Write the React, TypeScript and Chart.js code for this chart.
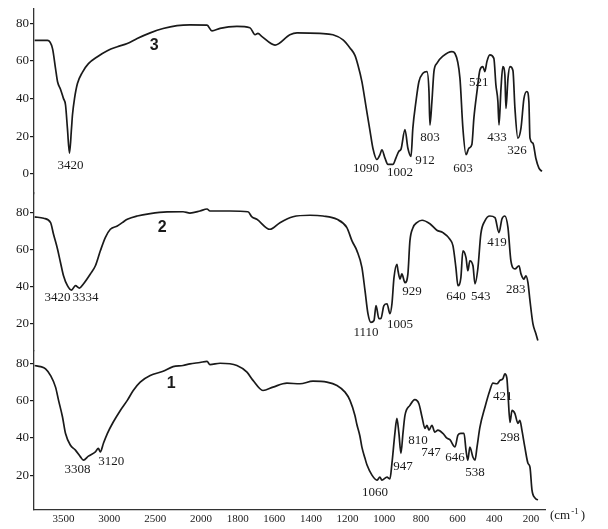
import React, { useEffect, useRef } from 'react';
import { Chart, registerables } from 'chart.js';

Chart.register(...registerables);

// Spectrum 3 (top panel): wavenumber (cm-1) and transmittance (%)
const wn3 = [3815, 3674, 3620, 3587, 3565, 3533, 3500, 3478, 3457, 3435, 3413, 3402, 3380, 3348, 3294, 3228, 3130, 3022, 2913, 2804, 2696, 2554, 2413, 2261, 2120, 1967, 1940, 1896, 1804, 1733, 1705, 1689, 1667, 1596, 1515, 1476, 1351, 1280, 1225, 1187, 1160, 1144, 1122, 1100, 1078, 1062, 1040, 1024, 1013, 996, 980, 953, 936, 920, 909, 887, 871, 854, 844, 827, 811, 789, 767, 756, 751, 740, 729, 713, 680, 631, 614, 587, 571, 554, 538, 522, 511, 494, 478, 462, 451, 440, 424, 402, 391, 380, 374, 363, 353, 342, 336, 325, 314, 298, 287, 271, 254, 238, 222, 211, 205, 189, 173, 156, 140];
const t3 = [71, 71, 66.6, 56, 49, 45, 40, 36.6, 24, 11, 24, 31.4, 40, 48, 54, 58.6, 62.3, 65.5, 67.6, 69.3, 72, 75, 77.3, 78.8, 79.2, 79.1, 76, 77.4, 78.4, 77.7, 74, 74.7, 73, 68.5, 74, 75, 74.7, 74, 71.3, 67, 63, 58, 49, 36, 23, 13.6, 7.6, 10, 12.8, 8.3, 5, 5, 8.5, 12, 13, 23.5, 13.6, 9.3, 24.3, 38.5, 49, 53.5, 54.4, 43.8, 26, 38.5, 54.4, 58.8, 62.6, 65, 64, 50.8, 24.3, 10.2, 13.6, 15.6, 29.6, 43.8, 55.2, 57, 54.4, 59.7, 63.3, 61.4, 47.4, 38.5, 26, 45.6, 57, 52.6, 34.8, 50.8, 57, 55, 34.8, 18.9, 24.3, 40, 43.8, 38.5, 19, 16.3, 8.3, 3, 1.3];

// Spectrum 2 (middle panel)
const wn2 = [3815, 3717, 3641, 3609, 3565, 3533, 3500, 3457, 3413, 3370, 3326, 3283, 3207, 3152, 3098, 3044, 2989, 2913, 2859, 2804, 2696, 2554, 2370, 2196, 2120, 2011, 1967, 1951, 1842, 1744, 1722, 1695, 1624, 1569, 1498, 1405, 1334, 1258, 1204, 1176, 1149, 1122, 1105, 1089, 1073, 1056, 1045, 1029, 1018, 1002, 985, 969, 958, 947, 931, 925, 914, 904, 887, 871, 860, 844, 822, 794, 751, 713, 680, 642, 625, 609, 598, 582, 571, 554, 544, 533, 516, 505, 489, 473, 451, 424, 396, 374, 358, 342, 325, 309, 287, 265, 254, 238, 227, 216, 205, 189, 173, 162];
const t2 = [77.7, 77, 74.6, 68.3, 60.2, 53, 45.8, 40.4, 38, 40.4, 39.1, 41.3, 46.7, 51.2, 59.3, 66.5, 71, 72.8, 74.6, 76.4, 78.2, 79.5, 80.4, 80.5, 79.8, 80.9, 82, 80.9, 80.9, 80.5, 77.7, 76.4, 71, 74.6, 77.8, 78.6, 78.2, 76.4, 71.9, 64.7, 59.3, 50.3, 37.7, 25.2, 20.5, 21.5, 29.6, 22.5, 22.6, 29.6, 30.6, 25.2, 30.6, 44.7, 52, 48.5, 44, 46.8, 42, 46.8, 64.7, 71.7, 74.6, 75.9, 74, 70.5, 69.2, 65.6, 62, 50.1, 40.4, 44.7, 59.3, 55.6, 48.5, 53.9, 51.2, 41.4, 50, 68.5, 75.5, 78.2, 77.3, 69.2, 76.6, 78.2, 71.9, 53.9, 49.5, 51.2, 46.8, 44, 45.8, 42, 32.3, 19.8, 14.4, 10.7];

// Spectrum 1 (bottom panel)
const wn1 = [3815, 3750, 3696, 3641, 3587, 3554, 3511, 3478, 3424, 3370, 3315, 3283, 3228, 3152, 3120, 3098, 3065, 3022, 2957, 2880, 2804, 2739, 2663, 2554, 2413, 2304, 2196, 2120, 2011, 1967, 1951, 1896, 1804, 1749, 1716, 1662, 1607, 1531, 1460, 1389, 1313, 1258, 1214, 1187, 1160, 1149, 1133, 1122, 1105, 1094, 1067, 1040, 1024, 1013, 985, 969, 958, 942, 931, 920, 909, 898, 887, 860, 833, 811, 794, 778, 767, 756, 740, 724, 707, 680, 658, 642, 614, 598, 582, 565, 554, 544, 533, 516, 505, 494, 478, 451, 424, 407, 385, 369, 353, 342, 331, 325, 314, 303, 287, 271, 260, 249, 233, 216, 205, 194, 178, 162];
const t1 = [78.8, 78.2, 77, 73.4, 67.2, 60.1, 51.2, 42.3, 36, 33.4, 29.8, 28, 30.2, 32.5, 34.3, 32.5, 37, 42.3, 48.5, 54.7, 60.1, 65.4, 69.9, 73.4, 75.7, 78.2, 78.8, 79.7, 80.4, 81, 79.3, 80, 78.8, 75.2, 70.8, 65.4, 67.2, 69.3, 69, 70.4, 69.9, 68.1, 64.5, 60.1, 52, 47, 41, 35, 29, 25.4, 20, 17.3, 18.9, 17.3, 18.9, 18, 26.4, 42.4, 50.4, 42.4, 31.7, 42.4, 52, 57.4, 60.5, 58.3, 51.2, 45.1, 46.7, 44.1, 46.7, 43.1, 44.1, 42.4, 39.8, 39, 35.1, 41.4, 42.4, 42.4, 33.4, 28, 35, 29.6, 28, 35, 45.7, 56.3, 65.4, 69.3, 69, 70.8, 71.7, 74.3, 72, 63.8, 48.3, 54.7, 53, 47.8, 49.4, 44.1, 35, 26.4, 24.3, 12, 7.8, 6.7];

// Axis ticks
const xTickWavenumbers = [3500, 3000, 2500, 2000, 1800, 1600, 1400, 1200, 1000, 800, 600, 400, 200];
const yTickValues = [0, 20, 40, 60, 80];

// Peak annotations: text, wavenumber position, transmittance position
const peaks3 = [
  { text: '3420', wn: 3424, t: 4.5 },
  { text: '1090', wn: 1100, t: 2.9 },
  { text: '1002', wn: 914, t: 0.8 },
  { text: '912', wn: 778, t: 7.2 },
  { text: '803', wn: 751, t: 19.4 },
  { text: '603', wn: 571, t: 2.9 },
  { text: '521', wn: 484, t: 48.5 },
  { text: '433', wn: 385, t: 19.4 },
  { text: '326', wn: 276, t: 12.5 },
];
const peaks2 = [
  { text: '3420', wn: 3565, t: 33.9 },
  { text: '3334', wn: 3261, t: 33.9 },
  { text: '1110', wn: 1100, t: 15 },
  { text: '1005', wn: 914, t: 19.3 },
  { text: '929', wn: 849, t: 37.1 },
  { text: '640', wn: 609, t: 34.4 },
  { text: '543', wn: 473, t: 34.4 },
  { text: '419', wn: 385, t: 63.6 },
  { text: '283', wn: 282, t: 38.2 },
];
const peaks1 = [
  { text: '3308', wn: 3348, t: 23.2 },
  { text: '3120', wn: 2978, t: 27.5 },
  { text: '1060', wn: 1051, t: 10.4 },
  { text: '947', wn: 898, t: 24.8 },
  { text: '810', wn: 816, t: 38.7 },
  { text: '747', wn: 745, t: 32.3 },
  { text: '646', wn: 614, t: 29.6 },
  { text: '538', wn: 505, t: 21.6 },
  { text: '421', wn: 353, t: 62.2 },
  { text: '298', wn: 314, t: 40.3 },
];
const curveNames = [
  { text: '3', wn: 2511, t: 68.2, axis: 'y3' },
  { text: '2', wn: 2424, t: 71.7, axis: 'y2' },
  { text: '1', wn: 2326, t: 69.2, axis: 'y1' },
];

// Scale change at 2000 cm-1 (half compression above 2000)
const toU = (wn: number) => (wn <= 2000 ? wn : 2000 + (wn - 2000) / 2);
const fromU = (u: number) => (u <= 2000 ? u : 2000 + (u - 2000) * 2);

const INK = '#1a1a1a';
const SERIF = '"Liberation Serif", "DejaVu Serif", serif';

const annotationPlugin = {
  id: 'irAnnotations',
  afterDatasetsDraw(chart: any) {
    const { ctx, scales } = chart;
    const xs = scales.x;
    ctx.save();
    ctx.fillStyle = INK;
    ctx.textAlign = 'center';
    ctx.textBaseline = 'middle';
    ctx.font = `13px ${SERIF}`;
    const groups: [any[], string][] = [
      [peaks3, 'y3'],
      [peaks2, 'y2'],
      [peaks1, 'y1'],
    ];
    for (const [list, axis] of groups) {
      const ys = scales[axis];
      for (const p of list) {
        ctx.fillText(p.text, xs.getPixelForValue(toU(p.wn)), ys.getPixelForValue(p.t));
      }
    }
    ctx.font = 'bold 16px "Liberation Sans", Arial, sans-serif';
    for (const c of curveNames) {
      ctx.fillText(c.text, xs.getPixelForValue(toU(c.wn)), scales[c.axis].getPixelForValue(c.t));
    }
    // unit label at the right end of the x axis
    const ax = xs.right + 5;
    const ay = xs.top + 6;
    ctx.textAlign = 'left';
    ctx.font = `13px ${SERIF}`;
    ctx.fillText('(cm', ax, ay);
    const w = ctx.measureText('(cm').width;
    ctx.font = `9px ${SERIF}`;
    ctx.fillText('-1', ax + w + 1, ay - 4);
    const w2 = ctx.measureText('-1').width;
    ctx.font = `13px ${SERIF}`;
    ctx.fillText(')', ax + w + w2 + 3, ay);
    ctx.restore();
  },
};

function yAxis(min: number, max: number, weight: number) {
  return {
    type: 'linear' as const,
    position: 'left' as const,
    stack: 'ir',
    stackWeight: weight,
    min,
    max,
    afterBuildTicks: (s: any) => {
      s.ticks = yTickValues.filter((v) => v >= min && v <= max).map((v) => ({ value: v }));
    },
    afterFit: (s: any) => {
      s.width = 34;
    },
    grid: {
      display: true,
      drawOnChartArea: false,
      drawTicks: true,
      tickLength: 4,
      color: INK,
      lineWidth: 1.2,
    },
    border: { display: true, color: '#333', width: 1.3 },
    ticks: {
      color: INK,
      padding: 1,
      font: { family: SERIF, size: 13 },
    },
  };
}

export default function App() {
  const ref = useRef<HTMLCanvasElement | null>(null);
  useEffect(() => {
    if (!ref.current) return;
    const mk = (wn: number[], t: number[]) => wn.map((w, i) => ({ x: toU(w), y: t[i] }));
    const lineStyle = {
      borderColor: INK,
      borderWidth: 1.7,
      pointRadius: 0,
      fill: false,
      cubicInterpolationMode: 'monotone' as const,
    };
    const chart = new Chart(ref.current, {
      type: 'line',
      data: {
        datasets: [
          { label: '1', data: mk(wn1, t1), yAxisID: 'y1', ...lineStyle },
          { label: '2', data: mk(wn2, t2), yAxisID: 'y2', ...lineStyle },
          { label: '3', data: mk(wn3, t3), yAxisID: 'y3', ...lineStyle },
        ],
      },
      options: {
        animation: false,
        responsive: false,
        layout: { padding: { left: 0, top: 7, right: 63, bottom: 0 } },
        plugins: { legend: { display: false }, tooltip: { enabled: false } },
        scales: {
          x: {
            type: 'linear',
            reverse: true,
            min: 123,
            max: 2911,
            afterBuildTicks: (s: any) => {
              s.ticks = xTickWavenumbers.map((w) => ({ value: toU(w) }));
            },
            afterFit: (s: any) => {
              s.height = 19;
            },
            grid: { display: false, drawTicks: false, tickLength: 0 },
            border: { display: true, color: '#333', width: 1.3 },
            ticks: {
              autoSkip: false,
              maxRotation: 0,
              color: INK,
              padding: 3,
              font: { family: SERIF, size: 11 },
              callback: (v: any) => String(Math.round(fromU(Number(v)))),
            },
          },
          y1: yAxis(1.3, 86.8, 160),
          y2: yAxis(5.2, 90.6, 158),
          y3: yAxis(-10.3, 87.8, 185),
        },
      },
      plugins: [annotationPlugin],
    });
    return () => chart.destroy();
  }, []);
  return (
    <div style={{ position: 'absolute', left: 0, top: 0, width: 608, height: 529, background: '#fff' }}>
      <canvas ref={ref} width={608} height={529} style={{ display: 'block' }} />
    </div>
  );
}
